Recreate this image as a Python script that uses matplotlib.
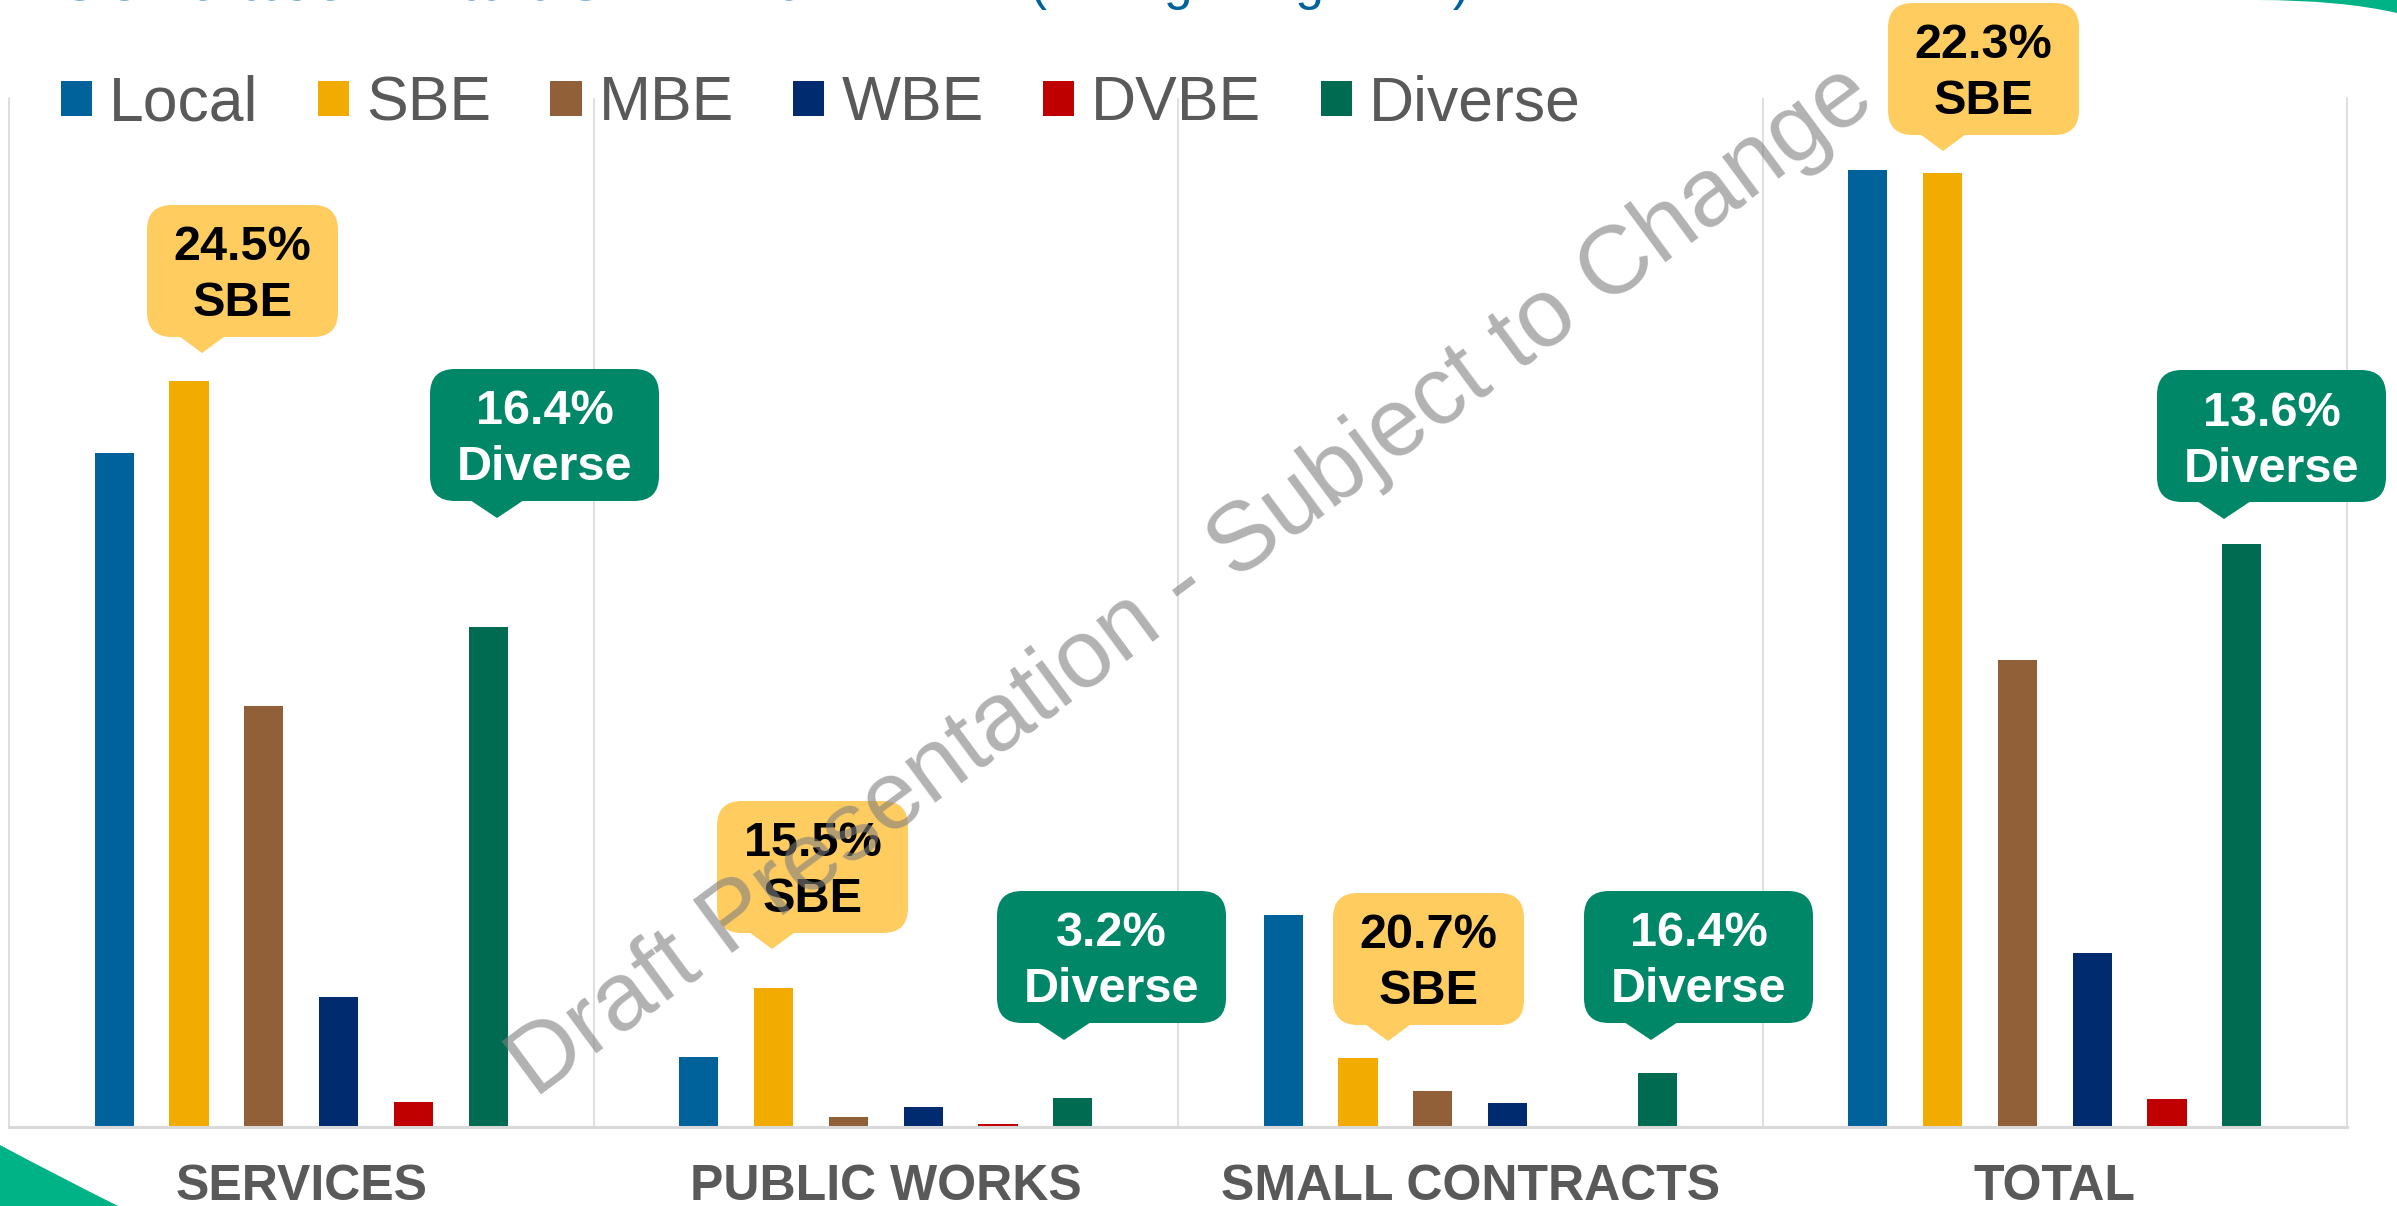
import matplotlib.pyplot as plt
import matplotlib.transforms as mtransforms
from matplotlib.patches import FancyBboxPatch, Polygon, PathPatch
from matplotlib.path import Path
import numpy as np

plt.rcParams['font.family'] = ['Liberation Sans', 'DejaVu Sans']

categories = ['SERVICES', 'PUBLIC WORKS', 'SMALL CONTRACTS', 'TOTAL']
series = ['Local', 'SBE', 'MBE', 'WBE', 'DVBE', 'Diverse']

# award amounts (the slide has no value axis)
local = [674, 70, 212, 957]
sbe = [746, 139, 69, 954]
mbe = [421, 10, 36, 467]
wbe = [130, 20, 24, 174]
dvbe = [25, 3, 0, 28]
diverse = [500, 29, 54, 583]
values = [local, sbe, mbe, wbe, dvbe, diverse]

# callout labels
sbe_pct = ['24.5%', '15.5%', '20.7%', '22.3%']
diverse_pct = ['16.4%', '3.2%', '16.4%', '13.6%']

colors = ['#00629B', '#F2AB00', '#915F38', '#002B6F', '#C00000', '#006B50']
grey = '#595959'

W, H = 2397, 1206
fig = plt.figure(figsize=(W / 100, H / 100), dpi=100)
ax = fig.add_axes([9 / W, 1 - 1127 / H, 2338 / W, 1029 / H])
# pixel coords, origin top-left
px = mtransforms.Affine2D().scale(1 / W, -1 / H).translate(0, 1) + fig.transFigure

x = np.arange(len(categories))
step, width = 0.128, 0.067
handles = []
for j, (name, vals, c) in enumerate(zip(series, values, colors)):
    b = ax.bar(x + (j - 2.5) * step, vals, width, color=c, label=name, zorder=2)
    handles.append(b)

ax.set_xlim(-0.5, 3.5)
ax.set_ylim(0, 1029)
for xs in [0.5, 1.5, 2.5]:
    ax.axvline(xs, color='#d9d9d9', lw=1.2, zorder=1)
ax.spines['top'].set_visible(False)
for s in ['left', 'right']:
    ax.spines[s].set_color('#d9d9d9')
    ax.spines[s].set_linewidth(1.2)
ax.spines['bottom'].set_color('#d9d9d9')
ax.spines['bottom'].set_linewidth(2.2)
ax.set_xticks([])
ax.set_yticks([])

# category labels
lab_tr = mtransforms.blended_transform_factory(ax.transData, fig.transFigure)
for i, cat in enumerate(categories):
    ax.text(i, 1 - 1200 / H, cat, transform=lab_tr, ha='center', va='baseline',
            fontsize=36, fontweight='bold', color=grey)

# legend
fig.legend(handles=handles, loc='center left', bbox_to_anchor=(61 / W, 1 - 104 / H),
           ncol=6, frameon=False, fontsize=45, labelcolor=grey,
           handlelength=0.5, handleheight=0.5, handletextpad=0.27,
           columnspacing=0.95, borderpad=0, borderaxespad=0)


def callout(x0, y0, w, h, tip, depth, base, fill, tcol, line1, line2):
    fig.patches.append(FancyBboxPatch((x0, y0), w, h, boxstyle='round,pad=0,rounding_size=25',
                                      transform=px, fc=fill, ec='none', zorder=5))
    tx = x0 + tip
    fig.patches.append(Polygon([(tx - base / 2, y0 + h - 2), (tx + base / 2, y0 + h - 2),
                                (tx, y0 + h + depth)], closed=True, transform=px,
                               fc=fill, ec='none', zorder=5))
    cx, cy = x0 + w / 2, y0 + h / 2
    fig.text(cx, cy - 10.5, line1, transform=px, ha='center', va='baseline',
             fontsize=35, fontweight='bold', color=tcol, zorder=6)
    fig.text(cx, cy + 45.5, line2, transform=px, ha='center', va='baseline',
             fontsize=35, fontweight='bold', color=tcol, zorder=6)


sbe_boxes = [(147, 205), (717, 801), (1333, 893), (1888, 3)]
div_boxes = [(430, 369), (997, 891), (1584, 891), (2157, 370)]
for (bx, by), p in zip(sbe_boxes, sbe_pct):
    callout(bx, by, 191, 132, 55, 16, 49, '#FFCC5F', 'black', p, 'SBE')
for (bx, by), p in zip(div_boxes, diverse_pct):
    callout(bx, by, 229, 132, 67, 17, 57, '#008767', 'white', p, 'Diverse')

# slide title, cut off by the top edge of the crop
fig.text(53, -1, 'Contract Awards FY 2022', transform=px, ha='left', va='baseline',
         fontsize=50, fontweight='bold', color='#00629B')
fig.text(1030, -1, '(through Aug 2022)', transform=px, ha='left', va='baseline',
         fontsize=37, color='#00629B')

# green swooshes of the slide template
bl = Path([(0, 1145), (50, 1172), (118, 1206), (0, 1206), (0, 1145)],
          [Path.MOVETO, Path.CURVE3, Path.CURVE3, Path.LINETO, Path.CLOSEPOLY])
fig.patches.append(PathPatch(bl, transform=px, fc='#00B386', ec='none', zorder=7))
tr = Path([(2257, 0), (2340, 0), (2397, 13), (2397, 0), (2257, 0)],
          [Path.MOVETO, Path.CURVE3, Path.CURVE3, Path.LINETO, Path.CLOSEPOLY])
fig.patches.append(PathPatch(tr, transform=px, fc='#00B386', ec='none', zorder=7))

# watermark
fig.text(1192, 582, 'Draft Presentation - Subject to Change', transform=px,
         ha='center', va='center', rotation=36.5, rotation_mode='anchor',
         fontsize=70, color='#7f7f7f', alpha=0.6, zorder=10)

fig.savefig('out.png', dpi=100)
